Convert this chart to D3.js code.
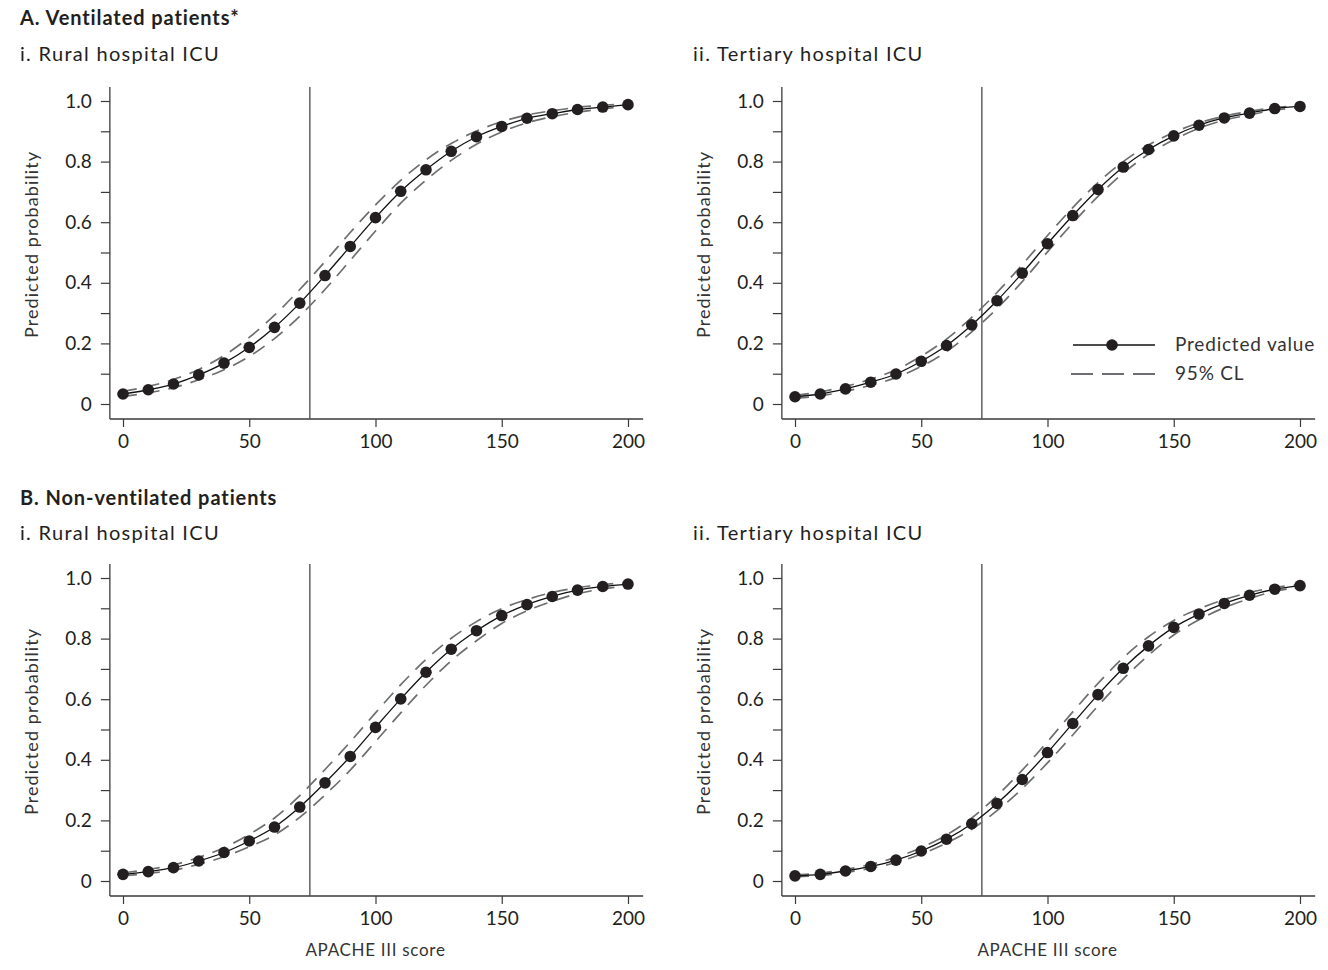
<!DOCTYPE html>
<html><head><meta charset="utf-8">
<script src="https://cdn.jsdelivr.net/npm/d3@7"></script>
<style>body{margin:0;background:#fff}svg{display:block;font-family:Lato,"Open Sans",sans-serif}</style>
</head><body>
<svg id="chart" width="1328" height="970"></svg>
<script>
// ---- data ----
const apache = [0,10,20,30,40,50,60,70,80,90,100,110,120,130,140,150,160,170,180,190,200];
const xTicks = [0,50,100,150,200];
const yTicksMajor = [0,0.2,0.4,0.6,0.8,1.0];
const yTicksMinor = [0.1,0.3,0.5,0.7,0.9];
const cutoff = 74;

const ventRuralPred  = [0.033,0.047,0.066,0.096,0.135,0.187,0.253,0.333,0.424,0.520,0.615,0.702,0.773,0.834,0.882,0.916,0.943,0.958,0.972,0.980,0.988];
const ventRuralUpper = [0.042,0.058,0.081,0.114,0.160,0.220,0.293,0.378,0.470,0.566,0.657,0.738,0.806,0.860,0.901,0.932,0.954,0.968,0.979,0.986,0.991];
const ventRuralLower = [0.025,0.037,0.054,0.080,0.113,0.157,0.216,0.290,0.378,0.474,0.571,0.663,0.739,0.804,0.857,0.898,0.928,0.948,0.963,0.974,0.983];

const ventTertPred  = [0.024,0.033,0.050,0.072,0.099,0.141,0.193,0.261,0.341,0.432,0.529,0.622,0.708,0.782,0.840,0.885,0.920,0.944,0.960,0.975,0.982];
const ventTertUpper = [0.029,0.040,0.058,0.082,0.113,0.158,0.214,0.286,0.368,0.460,0.556,0.648,0.731,0.800,0.855,0.896,0.928,0.950,0.966,0.978,0.985];
const ventTertLower = [0.019,0.027,0.042,0.062,0.087,0.124,0.173,0.238,0.315,0.404,0.502,0.597,0.685,0.762,0.824,0.872,0.910,0.937,0.954,0.970,0.978];

const nonvRuralPred  = [0.022,0.031,0.044,0.066,0.094,0.132,0.178,0.244,0.324,0.411,0.507,0.601,0.689,0.765,0.826,0.876,0.912,0.939,0.960,0.972,0.980];
const nonvRuralUpper = [0.027,0.038,0.053,0.078,0.110,0.154,0.208,0.282,0.368,0.459,0.555,0.648,0.731,0.801,0.856,0.899,0.929,0.952,0.968,0.978,0.985];
const nonvRuralLower = [0.017,0.025,0.036,0.055,0.080,0.113,0.152,0.210,0.284,0.366,0.460,0.555,0.646,0.727,0.793,0.850,0.892,0.923,0.948,0.964,0.974];

const nonvTertPred  = [0.017,0.022,0.033,0.048,0.069,0.099,0.138,0.189,0.256,0.335,0.424,0.520,0.615,0.702,0.776,0.837,0.881,0.916,0.943,0.963,0.975];
const nonvTertUpper = [0.020,0.026,0.038,0.055,0.078,0.110,0.152,0.208,0.281,0.366,0.460,0.558,0.652,0.737,0.806,0.860,0.898,0.929,0.952,0.969,0.979];
const nonvTertLower = [0.014,0.018,0.028,0.042,0.061,0.089,0.125,0.171,0.232,0.305,0.390,0.482,0.578,0.667,0.745,0.812,0.862,0.902,0.932,0.956,0.969];

const sectionTitles = ["A. Ventilated patients*", "B. Non-ventilated patients"];
const panelTitles = ["i. Rural hospital ICU", "ii. Tertiary hospital ICU"];
const yLabel = "Predicted probability";
const xLabel = "APACHE III score";
const legendLabels = ["Predicted value", "95% CL"];

// ---- layout ----
const panels = [
  {pred: ventRuralPred, up: ventRuralUpper, lo: ventRuralLower, col: 0, row: 0},
  {pred: ventTertPred,  up: ventTertUpper,  lo: ventTertLower,  col: 1, row: 0, legend: true},
  {pred: nonvRuralPred, up: nonvRuralUpper, lo: nonvRuralLower, col: 0, row: 1, xTitle: true},
  {pred: nonvTertPred,  up: nonvTertUpper,  lo: nonvTertLower,  col: 1, row: 1, xTitle: true}
];
const colX0 = [123, 795];     // pixel of x=0
const colWidth = 505;         // 0..200
const rowY1 = [101, 578];     // pixel of y=1
const rowH = 303;             // 1..0
const txtColor = "#231f20";
const axisColor = "#3a3a3a";

const svg = d3.select("#chart");

// section titles
svg.append("text").attr("x", 20).attr("y", 25).attr("font-size", 20).attr("font-weight", 700)
  .attr("letter-spacing", 0.9).attr("fill", txtColor).text(sectionTitles[0]);
svg.append("text").attr("x", 20).attr("y", 505).attr("font-size", 20).attr("font-weight", 700)
  .attr("letter-spacing", 0.9).attr("fill", txtColor).text(sectionTitles[1]);

panels.forEach(p => {
  const x = d3.scaleLinear().domain([0, 200]).range([colX0[p.col], colX0[p.col] + colWidth]);
  const y = d3.scaleLinear().domain([0, 1]).range([rowY1[p.row] + rowH, rowY1[p.row]]);
  const g = svg.append("g");
  const axL = x(-5.2), axR = x(206), axB = y(0) + 15, axT = y(1) - 14;

  // panel title
  g.append("text").attr("x", p.col === 0 ? 20 : 693).attr("y", p.row === 0 ? 61 : 540)
    .attr("font-size", 20).attr("letter-spacing", 1.3).attr("fill", txtColor).text(panelTitles[p.col]);

  // axes lines
  g.append("line").attr("x1", axL).attr("x2", axL).attr("y1", axT).attr("y2", axB)
    .attr("stroke", axisColor).attr("stroke-width", 1.3);
  g.append("line").attr("x1", axL).attr("x2", axR).attr("y1", axB).attr("y2", axB)
    .attr("stroke", axisColor).attr("stroke-width", 1.3);

  // y axis ticks
  const yAxis = d3.axisLeft(y).tickValues(yTicksMajor).tickSize(9).tickPadding(9)
    .tickFormat(d => d === 0 ? "0" : d3.format(".1f")(d));
  const ya = g.append("g").attr("transform", `translate(${axL},0)`).call(yAxis);
  const yaMinor = g.append("g").attr("transform", `translate(${axL},0)`)
    .call(d3.axisLeft(y).tickValues(yTicksMinor).tickSize(9).tickFormat(""));
  [ya, yaMinor].forEach(a => {
    a.select(".domain").remove();
    a.selectAll("line").attr("stroke", axisColor).attr("stroke-width", 1.2);
  });
  ya.selectAll("text").attr("font-size", 19).attr("fill", txtColor).attr("font-family", "Lato, sans-serif");

  // x axis ticks
  const xa = g.append("g").attr("transform", `translate(0,${axB})`)
    .call(d3.axisBottom(x).tickValues(xTicks).tickSize(8).tickPadding(8).tickFormat(d3.format("d")));
  xa.select(".domain").remove();
  xa.selectAll("line").attr("stroke", axisColor).attr("stroke-width", 1.2);
  xa.selectAll("text").attr("font-size", 19).attr("fill", txtColor).attr("font-family", "Lato, sans-serif");

  // y label
  g.append("text").attr("transform", `translate(${p.col === 0 ? 38 : 710},${(y(0) + y(1)) / 2 - 8}) rotate(-90)`)
    .attr("text-anchor", "middle").attr("font-size", 18).attr("letter-spacing", 1.1)
    .attr("fill", "#333").text(yLabel);

  if (p.xTitle) {
    g.append("text").attr("x", x(100)).attr("y", 956).attr("text-anchor", "middle")
      .attr("font-size", 17).attr("letter-spacing", 0.7).attr("fill", "#333").text(xLabel);
  }

  // cutoff line
  g.append("line").attr("x1", x(cutoff)).attr("x2", x(cutoff)).attr("y1", axT).attr("y2", axB)
    .attr("stroke", "#555").attr("stroke-width", 1.4);

  const line = d3.line().x((d, i) => x(apache[i])).y(d => y(d)).curve(d3.curveMonotoneX);
  // CI
  [p.up, p.lo].forEach(arr => {
    g.append("path").attr("d", line(arr)).attr("fill", "none").attr("stroke", "#6d6e71")
      .attr("stroke-width", 1.7).attr("stroke-dasharray", "14,9");
  });
  // predicted
  g.append("path").attr("d", line(p.pred)).attr("fill", "none").attr("stroke", "#111").attr("stroke-width", 1.3);
  g.selectAll("circle.pt").data(p.pred).enter().append("circle").attr("class", "pt")
    .attr("cx", (d, i) => x(apache[i])).attr("cy", d => y(d)).attr("r", 5.8).attr("fill", "#231f20");

  if (p.legend) {
    const lg = g.append("g");
    lg.append("line").attr("x1", 1073).attr("x2", 1155).attr("y1", 345).attr("y2", 345)
      .attr("stroke", "#111").attr("stroke-width", 1.3);
    lg.append("circle").attr("cx", 1112).attr("cy", 345).attr("r", 5.8).attr("fill", "#231f20");
    lg.append("line").attr("x1", 1071).attr("x2", 1155).attr("y1", 374).attr("y2", 374)
      .attr("stroke", "#6d6e71").attr("stroke-width", 1.8).attr("stroke-dasharray", "22,9");
    lg.append("text").attr("x", 1175).attr("y", 351).attr("font-size", 19).attr("letter-spacing", 0.8)
      .attr("fill", "#333").text(legendLabels[0]);
    lg.append("text").attr("x", 1175).attr("y", 380).attr("font-size", 19).attr("letter-spacing", 0.8)
      .attr("fill", "#333").text(legendLabels[1]);
  }
});
</script>
</body></html>
